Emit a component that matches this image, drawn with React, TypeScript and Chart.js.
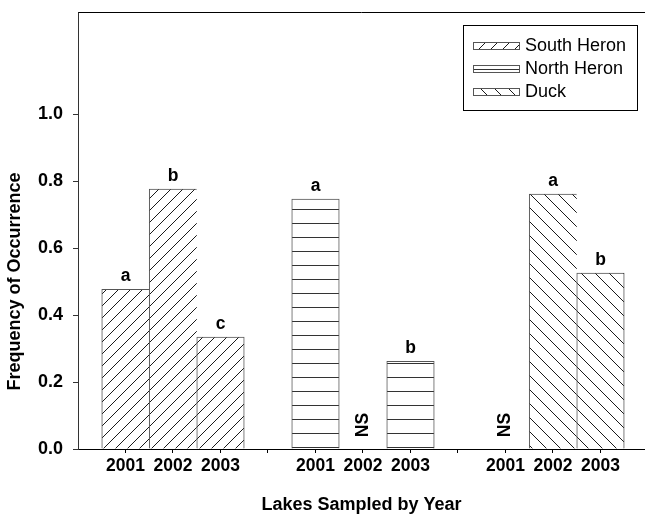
import React, { useEffect, useRef } from 'react';
import { Chart, registerables } from 'chart.js';

Chart.register(...registerables);

const lakes = ['South Heron', 'North Heron', 'Duck'];
const years = ['2001', '2002', '2003'];
const southHeron = [0.477, 0.776, 0.334];
const northHeron = [0.746, null, 0.262];
const duck = [null, 0.761, 0.525];
const southHeronLetters = ['a', 'b', 'c'];
const northHeronLetters = ['a', 'NS', 'b'];
const duckLetters = ['NS', 'a', 'b'];
const yTicks = [0, 0.2, 0.4, 0.6, 0.8, 1.0];
const FRAME_TOP = 1.303;

const series: (number | null)[][] = [southHeron, northHeron, duck];
const letters = [southHeronLetters, northHeronLetters, duckLetters];
const GROUP_STEP = years.length + 1;

const FONT = '"Liberation Sans", Arial, Helvetica, sans-serif';

function makePattern(kind: 'fwd' | 'back' | 'horiz', size: number) {
  const c = document.createElement('canvas');
  c.width = size;
  c.height = size;
  const g = c.getContext('2d')!;
  g.fillStyle = '#fff';
  g.fillRect(0, 0, size, size);
  g.strokeStyle = '#1a1a1a';
  g.lineWidth = 1;
  g.beginPath();
  if (kind === 'fwd') {
    g.moveTo(-1, size + 1);
    g.lineTo(size + 1, -1);
    g.moveTo(-1, 1);
    g.lineTo(1, -1);
    g.moveTo(size - 1, size + 1);
    g.lineTo(size + 1, size - 1);
  } else if (kind === 'back') {
    g.moveTo(-1, -1);
    g.lineTo(size + 1, size + 1);
    g.moveTo(size - 1, -1);
    g.lineTo(size + 1, 1);
    g.moveTo(-1, size - 1);
    g.lineTo(1, size + 1);
  } else {
    g.strokeStyle = '#333';
    g.moveTo(0, size - 0.5);
    g.lineTo(size, size - 0.5);
  }
  g.stroke();
  return g.createPattern(c, 'repeat')!;
}

const framePlugin = {
  id: 'frameLines',
  afterDraw(chart: any) {
    const { ctx, chartArea, scales } = chart;
    const top = Math.round(scales.y.getPixelForValue(FRAME_TOP)) + 0.5;
    const left = Math.round(chartArea.left) + 0.5;
    ctx.save();
    ctx.lineWidth = 1;
    ctx.strokeStyle = '#000';
    ctx.beginPath();
    ctx.moveTo(left - 0.5, top);
    ctx.lineTo(chartArea.right, top);
    ctx.stroke();
    ctx.strokeStyle = '#333';
    ctx.beginPath();
    ctx.moveTo(left, top);
    ctx.lineTo(left, chartArea.top);
    ctx.stroke();
    ctx.restore();
  },
};

const legendPlugin = {
  id: 'boxedLegend',
  afterDraw(chart: any) {
    const { ctx, chartArea, scales } = chart;
    const frameTop = scales.y.getPixelForValue(FRAME_TOP);
    ctx.save();
    ctx.font = '18px ' + FONT;
    const textW = Math.max(...lakes.map((l) => ctx.measureText(l).width));
    const padX = 10, sw = 46, sh = 7, gap = 6, rowH = 23, padTop = 20, padBottom = 19;
    const boxW = Math.round(padX + sw + gap + textW + 11);
    const right = chartArea.right - 8;
    const left = Math.round(right - boxW);
    const boxTop = Math.round(frameTop + 13);
    const boxH = padTop + rowH * (lakes.length - 1) + padBottom;
    ctx.fillStyle = '#fff';
    ctx.fillRect(left, boxTop, boxW, boxH);
    ctx.strokeStyle = '#000';
    ctx.lineWidth = 1;
    ctx.strokeRect(left + 0.5, boxTop + 0.5, boxW, boxH);
    chart.data.datasets.forEach((ds: any, i: number) => {
      const cy = boxTop + padTop + rowH * i;
      const sx = left + padX;
      ctx.fillStyle = ds.backgroundColor;
      ctx.fillRect(sx, Math.round(cy - sh / 2), sw, sh);
      ctx.strokeStyle = '#555';
      ctx.strokeRect(sx + 0.5, Math.round(cy - sh / 2) + 0.5, sw, sh);
      ctx.fillStyle = '#000';
      ctx.textBaseline = 'middle';
      ctx.textAlign = 'left';
      ctx.fillText(ds.label, sx + sw + gap, cy + 1);
    });
    ctx.restore();
  },
};

const letterPlugin = {
  id: 'barLetters',
  afterDatasetsDraw(chart: any) {
    const { ctx, scales } = chart;
    ctx.save();
    ctx.fillStyle = '#000';
    ctx.font = 'bold 17.5px ' + FONT;
    ctx.textAlign = 'center';
    series.forEach((vals, g) => {
      vals.forEach((v, j) => {
        const x = scales.x.getPixelForValue(g * GROUP_STEP + j);
        const text = letters[g][j];
        if (v == null) {
          const y = scales.y.getPixelForValue(0) - 24;
          ctx.save();
          ctx.translate(x, y);
          ctx.rotate(-Math.PI / 2);
          ctx.textBaseline = 'middle';
          ctx.fillText(text, 0, 0);
          ctx.restore();
        } else {
          ctx.textBaseline = 'alphabetic';
          ctx.fillText(text, x, scales.y.getPixelForValue(v) - 8);
        }
      });
    });
    ctx.restore();
  },
};

export default function App() {
  const ref = useRef<HTMLCanvasElement>(null);
  useEffect(() => {
    document.body.style.margin = '0';
    const canvas = ref.current!;
    const patterns = [makePattern('fwd', 12), makePattern('horiz', 14), makePattern('back', 14)];
    const chart = new Chart(canvas, {
      type: 'bar',
      data: {
        datasets: lakes.map((name, g) => ({
          label: name,
          data: years.map((_, j) => ({ x: g * GROUP_STEP + j, y: series[g][j] })),
          backgroundColor: patterns[g],
          borderColor: '#555',
          borderSkipped: false,
          borderWidth: (c: any) => {
            const next = series[g][c.dataIndex + 1];
            return { top: 1, left: 1, bottom: 0, right: next == null ? 1 : 0 };
          },
          barPercentage: 1,
          categoryPercentage: 1,
          grouped: false,
        })) as any,
      },
      options: {
        responsive: false,
        animation: false,
        devicePixelRatio: 1,
        layout: { padding: { top: 114, right: 0, bottom: 0, left: 0 } },
        plugins: {
          legend: { display: false },
          tooltip: { enabled: false },
        },
        scales: {
          x: {
            type: 'linear',
            offset: false,
            min: -1,
            max: 10.937,
            afterBuildTicks: (s: any) => {
              const t = [];
              for (let i = 0; i < lakes.length * GROUP_STEP - 1; i++) t.push({ value: i });
              s.ticks = t;
            },
            afterFit: (s: any) => {
              s.height = 68;
            },
            ticks: {
              autoSkip: false,
              maxRotation: 0,
              padding: 3,
              color: '#000',
              font: { family: FONT, size: 17.5, weight: 'bold' },
              callback: (v: any) => {
                const k = Math.round(Number(v)) % GROUP_STEP;
                return k < years.length ? years[k] : '';
              },
            },
            grid: { offset: false, drawOnChartArea: false, drawTicks: true, tickLength: 4, color: '#000' },
            border: { color: '#000', width: 1 },
            title: {
              display: true,
              text: 'Lakes Sampled by Year',
              color: '#000',
              font: { family: FONT, size: 18, weight: 'bold' },
              padding: { top: 0, bottom: 1 },
            },
          },
          y: {
            type: 'linear',
            min: 0,
            max: 1,
            afterBuildTicks: (s: any) => {
              s.ticks = yTicks.map((v) => ({ value: v }));
            },
            afterFit: (s: any) => {
              s.width = 78;
            },
            ticks: {
              padding: 10,
              color: '#000',
              font: { family: FONT, size: 18, weight: 'bold' },
              callback: (v: any) => Number(v).toFixed(1),
            },
            grid: { drawOnChartArea: false, drawTicks: true, tickLength: 5, color: '#333' },
            border: { color: '#333', width: 1 },
            title: {
              display: true,
              text: 'Frequency of Occurrence',
              color: '#000',
              font: { family: FONT, size: 18, weight: 'bold' },
              padding: { top: 4, bottom: 0 },
            },
          },
        },
      } as any,
      plugins: [letterPlugin, framePlugin, legendPlugin],
    });
    return () => chart.destroy();
  }, []);
  return (
    <div style={{ width: 645, height: 517 }}>
      <canvas ref={ref} width={645} height={517} style={{ display: 'block' }} />
    </div>
  );
}
